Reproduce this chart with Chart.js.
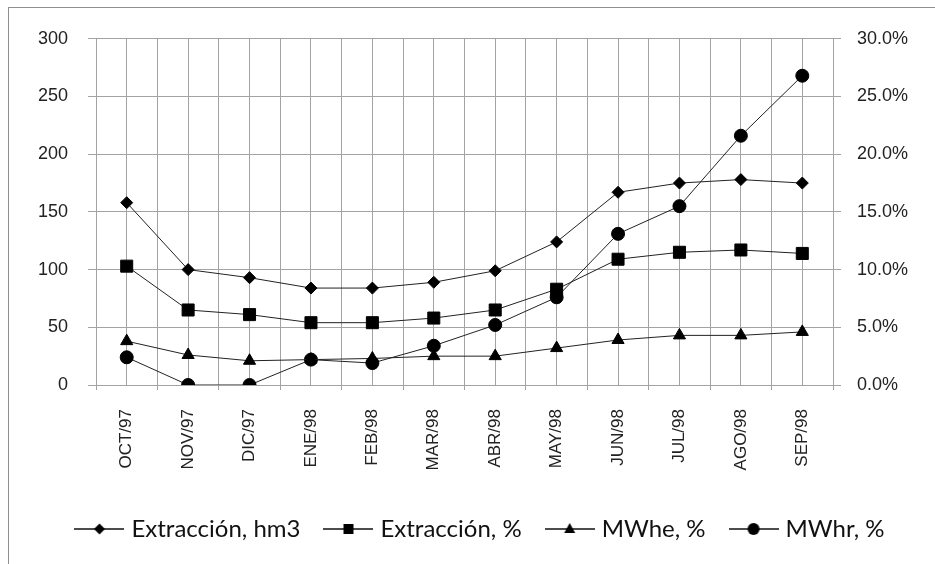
<!DOCTYPE html>
<html>
<head>
<meta charset="utf-8">
<script src="https://cdn.jsdelivr.net/npm/chart.js@4.4.0/dist/chart.umd.min.js"></script>
<style>
  html, body { margin: 0; padding: 0; background: #fff; overflow: hidden; }
  #frame { position: absolute; left: 8px; top: 7px; width: 960px; height: 600px; border: 1px solid #8f8f8f; }
  #c { position: absolute; left: 0; top: 0; }
</style>
</head>
<body>
<div id="frame"><canvas id="c" width="960" height="553" style="width:960px;height:553px"></canvas></div>
<script>
const months = ["OCT/97", "NOV/97", "DIC/97", "ENE/98", "FEB/98", "MAR/98", "ABR/98", "MAY/98", "JUN/98", "JUL/98", "AGO/98", "SEP/98"]
const extraccionHm3 = [158, 100, 93, 84, 84, 89, 99, 124, 167, 175, 178, 175]
const extraccionPct = [10.3, 6.5, 6.1, 5.4, 5.4, 5.8, 6.5, 8.3, 10.9, 11.5, 11.7, 11.4]
const mwhePct = [3.8, 2.6, 2.1, 2.2, 2.3, 2.5, 2.5, 3.2, 3.9, 4.3, 4.3, 4.6]
const mwhrPct = [2.4, 0, 0, 2.2, 1.9, 3.4, 5.2, 7.6, 13.1, 15.5, 21.6, 26.8]
const leftTicks = [0, 50, 100, 150, 200, 250, 300]
const rightTicks = [0, 5, 10, 15, 20, 25, 30]

const gridColor = "#a3a3a3"
const lineColor = "#222"

// little line+marker pictures for the legend
function legendIcon(shape) {
  const cv = document.createElement("canvas")
  cv.width = 50
  cv.height = 18
  const ctx = cv.getContext("2d")
  ctx.strokeStyle = "#111"
  ctx.lineWidth = 1.5
  ctx.beginPath()
  ctx.moveTo(0, 9)
  ctx.lineTo(50, 9)
  ctx.stroke()
  ctx.fillStyle = "#000"
  ctx.beginPath()
  if (shape == "diamond") {
    ctx.moveTo(25, 3.5); ctx.lineTo(30.5, 9); ctx.lineTo(25, 14.5); ctx.lineTo(19.5, 9)
  } else if (shape == "square") {
    ctx.rect(20, 4, 10, 10)
  } else if (shape == "triangle") {
    ctx.moveTo(25, 3); ctx.lineTo(30.5, 13); ctx.lineTo(19.5, 13)
  } else {
    ctx.arc(25, 9, 6, 0, Math.PI * 2)
  }
  ctx.closePath()
  ctx.fill()
  return cv
}
const icons = [legendIcon("diamond"), legendIcon("square"), legendIcon("triangle"), legendIcon("circle")]

function series(label, data, axis, style, radius) {
  return {
    label: label,
    data: data,
    yAxisID: axis,
    borderColor: lineColor,
    borderWidth: 1,
    backgroundColor: "#000",
    pointStyle: style,
    pointRadius: radius,
    pointHoverRadius: radius,
    pointBackgroundColor: "#000",
    pointBorderColor: "#000",
    pointBorderWidth: 1,
    tension: 0,
  }
}

Chart.defaults.font.family = "'Liberation Sans', Arial, sans-serif"
Chart.defaults.color = "#111"

new Chart(document.getElementById("c"), {
  type: "line",
  data: {
    labels: months,
    datasets: [
      series("Extracción, hm3", extraccionHm3, "y", "rectRot", 6),
      series("Extracción, %", extraccionPct, "y1", "rect", 8.5),
      series("MWhe, %", mwhePct, "y1", "triangle", 7),
      series("MWhr, %", mwhrPct, "y1", "circle", 6.5),
    ],
  },
  options: {
    responsive: false,
    animation: false,
    layout: { padding: { top: 27, right: 14, bottom: 10, left: 0 } },
    plugins: {
      tooltip: { enabled: false },
      legend: {
        position: "bottom",
        labels: {
          usePointStyle: true,
          pointStyleWidth: 40,
          padding: 28,
          color: "#111",
          font: { family: "Lato, 'Liberation Sans', sans-serif", size: 24 },
          generateLabels: (chart) => {
            const items = Chart.defaults.plugins.legend.labels.generateLabels(chart)
            items.forEach((it) => { it.pointStyle = icons[it.datasetIndex] })
            return items
          },
        },
      },
    },
    scales: {
      x: {
        offset: true,
        grid: { offset: true, drawOnChartArea: false, tickLength: 5, color: gridColor },
        border: { display: false },
        ticks: { autoSkip: false, minRotation: 90, maxRotation: 90, padding: 19, font: { size: 17 }, color: "#222" },
        afterFit: (s) => { s.height = 104 },
      },
      xg: {
        type: "linear",
        position: "top",
        min: 0,
        max: 24,
        grid: { color: gridColor, drawTicks: false },
        border: { display: false },
        ticks: { display: false, stepSize: 1, maxTicksLimit: 30 },
        afterFit: (s) => { s.height = 0 },
      },
      y: {
        position: "left",
        min: 0,
        max: 300,
        afterBuildTicks: (s) => { s.ticks = leftTicks.map((v) => ({ value: v })) },
        grid: { color: gridColor, tickLength: 8 },
        border: { color: gridColor },
        ticks: { padding: 20, font: { size: 18 }, color: "#222" },
        afterFit: (s) => { s.width = 87 },
      },
      y1: {
        position: "right",
        min: 0,
        max: 30,
        afterBuildTicks: (s) => { s.ticks = rightTicks.map((v) => ({ value: v })) },
        grid: { drawOnChartArea: false, color: gridColor, tickLength: 8 },
        border: { color: gridColor },
        ticks: { padding: 16, font: { size: 18 }, color: "#222", callback: (v) => v.toFixed(1) + "%" },
        afterFit: (s) => { s.width = 122 },
      },
    },
  },
})
</script>
</body>
</html>
